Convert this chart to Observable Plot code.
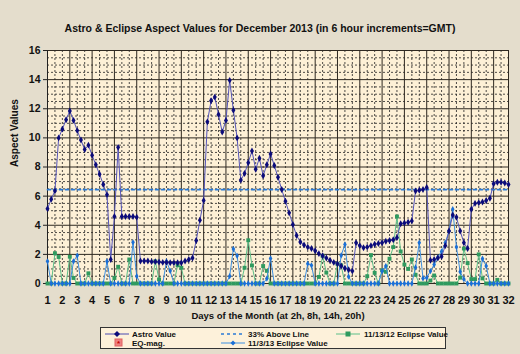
<!DOCTYPE html>
<html><head><meta charset="utf-8">
<script src="https://cdn.jsdelivr.net/npm/d3@7"></script>
<script src="https://cdn.jsdelivr.net/npm/@observablehq/plot@0.6"></script>
<style>
body{margin:0;background:#e4ddcc;font-family:"Liberation Sans",Arial,sans-serif;}
#wrap{position:relative;width:520px;height:354px;overflow:hidden;background:#e4ddcc;}
#title{position:absolute;left:0;top:22px;width:520px;text-align:center;font-weight:bold;font-size:10.5px;line-height:12px;color:#111;}
#chart{position:absolute;left:0;top:40px;}
#legend{position:absolute;left:100px;top:327px;width:344px;height:20px;border:1px solid #333;background:#fdf1da;font-weight:bold;font-size:8px;color:#111;}
#legend .it{position:absolute;line-height:9px;white-space:nowrap;}
#legend svg{position:absolute;}
</style></head>
<body><div id="wrap">
<div id="title">Astro &amp; Eclipse Aspect Values for December 2013 (in 6 hour increments=GMT)</div>
<div id="chart"></div>
<div id="legend">
  <svg style="left:3px;top:2px" width="26" height="8"><line x1="1" y1="4" x2="25" y2="4" stroke="#4a4ab0" stroke-width="1"/><path d="M13,1 L16,4 L13,7 L10,4Z" fill="#0b0b7a"/></svg>
  <div class="it" style="left:31px;top:2px">Astro Value</div>
  <svg style="left:12px;top:10px" width="12" height="9"><rect x="2" y="1" width="7" height="7" fill="#f08080" stroke="#e06060"/><text x="5.5" y="7.5" font-size="8" text-anchor="middle" fill="#c00000">*</text></svg>
  <div class="it" style="left:31px;top:11px">EQ-mag.</div>
  <svg style="left:119px;top:2px" width="26" height="8"><line x1="1" y1="4" x2="25" y2="4" stroke="#2a7ad6" stroke-width="1.6" stroke-dasharray="3,3"/></svg>
  <div class="it" style="left:147px;top:2px">33% Above Line</div>
  <svg style="left:119px;top:11px" width="26" height="8"><line x1="1" y1="4" x2="25" y2="4" stroke="#3d8fe0" stroke-width="1"/><path d="M13,1.5 L15.5,4 L13,6.5 L10.5,4Z" fill="#1a6fd6"/></svg>
  <div class="it" style="left:147px;top:11px">11/3/13 Eclipse Value</div>
  <svg style="left:234px;top:2px" width="26" height="8"><line x1="1" y1="4" x2="25" y2="4" stroke="#5cbf88" stroke-width="1"/><rect x="10.5" y="1.5" width="5" height="5" fill="#2f9a5f"/></svg>
  <div class="it" style="left:263px;top:2px">11/13/12 Eclipse Value</div>
</div>
</div>
<script>
// 4 readings per day (2h, 8h, 14h, 20h), Dec 1 .. Dec 32
const astroValue = [
 5.14,5.79,6.36,10.0,10.6,11.25,11.85,11.2,10.5,9.85,
 9.2,9.5,8.8,8.15,7.5,6.8,6.1,1.65,4.6,9.35,
 4.6,4.6,4.6,4.6,4.55,1.55,1.55,1.55,1.5,1.5,
 1.48,1.45,1.45,1.42,1.42,1.42,1.42,1.55,1.65,1.75,
 2.95,4.35,5.7,11.1,12.55,12.8,11.6,10.4,11.2,13.95,
 11.9,10.0,7.1,7.55,8.3,9.1,7.85,8.6,7.4,8.15,
 8.9,8.1,7.3,6.45,5.65,4.85,4.05,3.3,2.85,2.65,
 2.5,2.4,2.25,2.05,1.9,1.75,1.6,1.45,1.35,1.2,
 1.05,0.95,0.85,2.8,2.6,2.45,2.5,2.6,2.7,2.75,
 2.8,2.9,2.95,3.0,3.15,4.1,4.15,4.2,4.3,6.35,
 6.4,6.45,6.6,1.6,1.65,1.75,1.85,2.6,3.6,4.7,
 4.55,3.6,2.8,2.4,5.1,5.5,5.55,5.6,5.7,5.85,
 6.85,6.95,6.95,6.9,6.8];
const eclipse2013 = [
 1.52,0,0,0,0,0,0,1.52,1.92,0,
 0,0,0,0,0,0,1.52,0,0,0,
 0,0,0,2.83,0.5,0,0,0,0,0,
 0,0,1.53,0.87,0,0,0,0,0,0,
 0,0,0,0,0,0,0,0,0,0.5,
 2.37,1.9,0,0,0,0,0,0,0,0.34,
 1.72,0,0,0,0,0,0,0,0,0,
 1.36,1.25,0,0,0,0,0,0,0,1.93,
 2.68,0.47,0,0,0,0,0,0,0,0,
 0.85,1.2,0,0,0,0,0,0,0,1.1,
 2.8,0.35,0.4,0.85,1.3,1.8,2.2,2.8,3.6,5.1,
 2.5,0.8,0.3,0,0,0,0,1.7,1.2,0,
 0,0,0,0,0];
const eclipse2012 = [
 0,0,2.08,1.82,0,0,1.84,0.38,0,0,
 0,0.7,0,0,0,0,0,0,0.38,1.15,
 0,0,1.65,0,0,0,0,0,0,1.52,
 0.28,0,0,0,0,1.25,1.08,0,0,0,
 0,0,0,0,0,0,0,0,0,0,
 0,0,0,1.08,2.97,1.24,0,0,1.2,0.87,
 0,0,0,0,0,0,0,0,0,0,
 0,0,0,0.45,1.9,0.75,0,0,1.35,1.25,
 0,0,0,0,0,0,0.5,1.95,0.73,0,
 0.9,0.8,1.7,2.5,4.6,2.2,1.3,1.0,1.65,0.6,
 0,0,0,0.2,0.55,0,0,0,0,0,
 0,0.4,2.4,1.4,0.3,0.3,2.0,0.35,0,0,
 0,0.25,0,0,0];
const aboveLine = 6.45;
const dayTicks = d3.range(1, 33);
const valueTicks = d3.range(0, 17, 2);

const days = astroValue.map((_, i) => 1 + i / 4);
const rows = days.map((d, i) => ({day: d, astro: astroValue[i], e13: eclipse2013[i], e12: eclipse2012[i], above: aboveLine}));

const majorX = d3.range(1, 32, 1.5).concat([32]);
const minorX = d3.range(1, 32.01, 0.5).filter(v => !majorX.includes(v));
const majorY = d3.range(0, 16.01, 2);
const minorY = d3.range(0, 16.01, 0.5).filter(v => v % 2 !== 0);

const font = "'Liberation Sans', Arial, sans-serif";
const chart = Plot.plot({
  width: 520, height: 285,
  marginTop: 10, marginBottom: 42, marginLeft: 47, marginRight: 12,
  style: {background: "transparent", fontFamily: font, color: "#111"},
  x: {domain: [1, 32]},
  y: {domain: [0, 16]},
  marks: [
    Plot.frame({fill: "#fdf0d6", stroke: "none"}),
    Plot.ruleX(minorX, {stroke: "#222", strokeWidth: 0.8, strokeDasharray: "2,2"}),
    Plot.ruleY(minorY, {stroke: "#222", strokeWidth: 0.8, strokeDasharray: "2,2"}),
    Plot.ruleX(majorX, {stroke: "#2e2820", strokeWidth: 1}),
    Plot.ruleY(majorY, {stroke: "#2e2820", strokeWidth: 1}),
    Plot.axisY(valueTicks, {tickSize: 4, tickPadding: 3, fontSize: 10.5, fontWeight: "bold", label: null, stroke: "#222"}),
    Plot.axisX(dayTicks, {tickSize: 0, tickPadding: 13, fontSize: 11, fontWeight: "bold", label: null}),
    Plot.ruleX([1], {stroke: "#222", strokeWidth: 1}),
    Plot.text(["Aspect Values"], {frameAnchor: "left", rotate: -90, dx: -33, fontSize: 10, fontWeight: "bold", fill: "#111"}),
    Plot.text(["Days of the Month (at 2h, 8h, 14h, 20h)"], {frameAnchor: "bottom", dy: 35, fontSize: 9.5, fontWeight: "bold", fill: "#111"}),
    Plot.line(rows, {x: "day", y: "above", stroke: "#2a7ad6", strokeWidth: 1.7, strokeDasharray: "3,3"}),
    Plot.line(rows, {x: "day", y: "e12", stroke: "#5cbf88", strokeWidth: 1}),
    Plot.dot(rows, {x: "day", y: "e12", symbol: "square", r: 2.2, fill: "#2f9a5f"}),
    Plot.line(rows, {x: "day", y: "e13", stroke: "#3d8fe0", strokeWidth: 1}),
    Plot.dot(rows, {x: "day", y: "e13", symbol: "diamond", r: 1.9, fill: "#1a6fd6"}),
    Plot.line(rows, {x: "day", y: "astro", stroke: "#5454b8", strokeWidth: 1}),
    Plot.dot(rows, {x: "day", y: "astro", symbol: "diamond", r: 2.1, fill: "#0b0b7a"})
  ]
});
document.getElementById("chart").appendChild(chart);
</script>
</body></html>
